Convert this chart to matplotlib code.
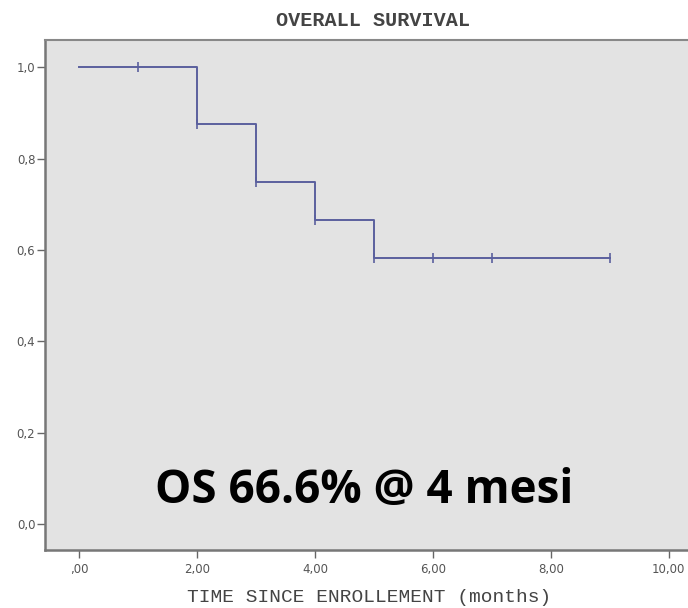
import matplotlib.pyplot as plt

# Kaplan-Meier step values
event_times = [0, 2, 3, 4, 5, 9]
survival = [1.0, 0.875, 0.75, 0.666, 0.583, 0.583]

# censor marks
censor_times = [1, 2, 3, 4, 5, 6, 7, 9]
censor_surv = [1.0, 0.875, 0.75, 0.666, 0.583, 0.583, 0.583, 0.583]

x_ticks = [0, 2, 4, 6, 8, 10]
x_labels = [',00', '2,00', '4,00', '6,00', '8,00', '10,00']
y_ticks = [0.0, 0.2, 0.4, 0.6, 0.8, 1.0]
y_labels = ['0,0', '0,2', '0,4', '0,6', '0,8', '1,0']

line_color = '#5b609e'

fig = plt.figure(figsize=(6.88, 6.08), dpi=100)
ax = fig.add_axes([45 / 688, 58 / 608, 658 / 688, 510 / 608])
ax.set_facecolor('#e3e3e3')

ax.step(event_times, survival, where='post', color=line_color, lw=1.4)
ax.plot(censor_times, censor_surv, ls='none', marker='|', ms=7, mew=1.2, color=line_color)

ax.set_xlim(-0.58, 10.58)
ax.set_ylim(-0.057, 1.06)

ax.set_xticks(x_ticks)
ax.set_xticklabels(x_labels)
ax.set_yticks(y_ticks)
ax.set_yticklabels(y_labels)
ax.tick_params(axis='both', direction='out', length=6, width=1, color='#666666',
               labelsize=8.5, labelcolor='#555555')
ax.tick_params(axis='x', pad=3)
ax.tick_params(axis='y', pad=1)

for side in ['left', 'bottom']:
    ax.spines[side].set_color('#777777')
    ax.spines[side].set_linewidth(1.8)
for side in ['top', 'right']:
    ax.spines[side].set_color('#888888')
    ax.spines[side].set_linewidth(1.5)

# title and axis label placed on the figure
fig.text(373 / 688, 1 - 20 / 608, 'OVERALL SURVIVAL', family='Liberation Mono',
         fontweight='bold', fontsize=14.5, color='#444444', ha='center', va='center')
fig.text(369 / 688, 1 - 597 / 608, 'TIME SINCE ENROLLEMENT (months)', family='Liberation Mono',
         fontsize=14, color='#444444', ha='center', va='center')

ax.text(4.83, 0.046, 'OS 66.6% @ 4 mesi', family='Open Sans', fontweight='bold',
        fontsize=33, color='black', ha='center', va='baseline')

fig.savefig('out.png', dpi=100)
